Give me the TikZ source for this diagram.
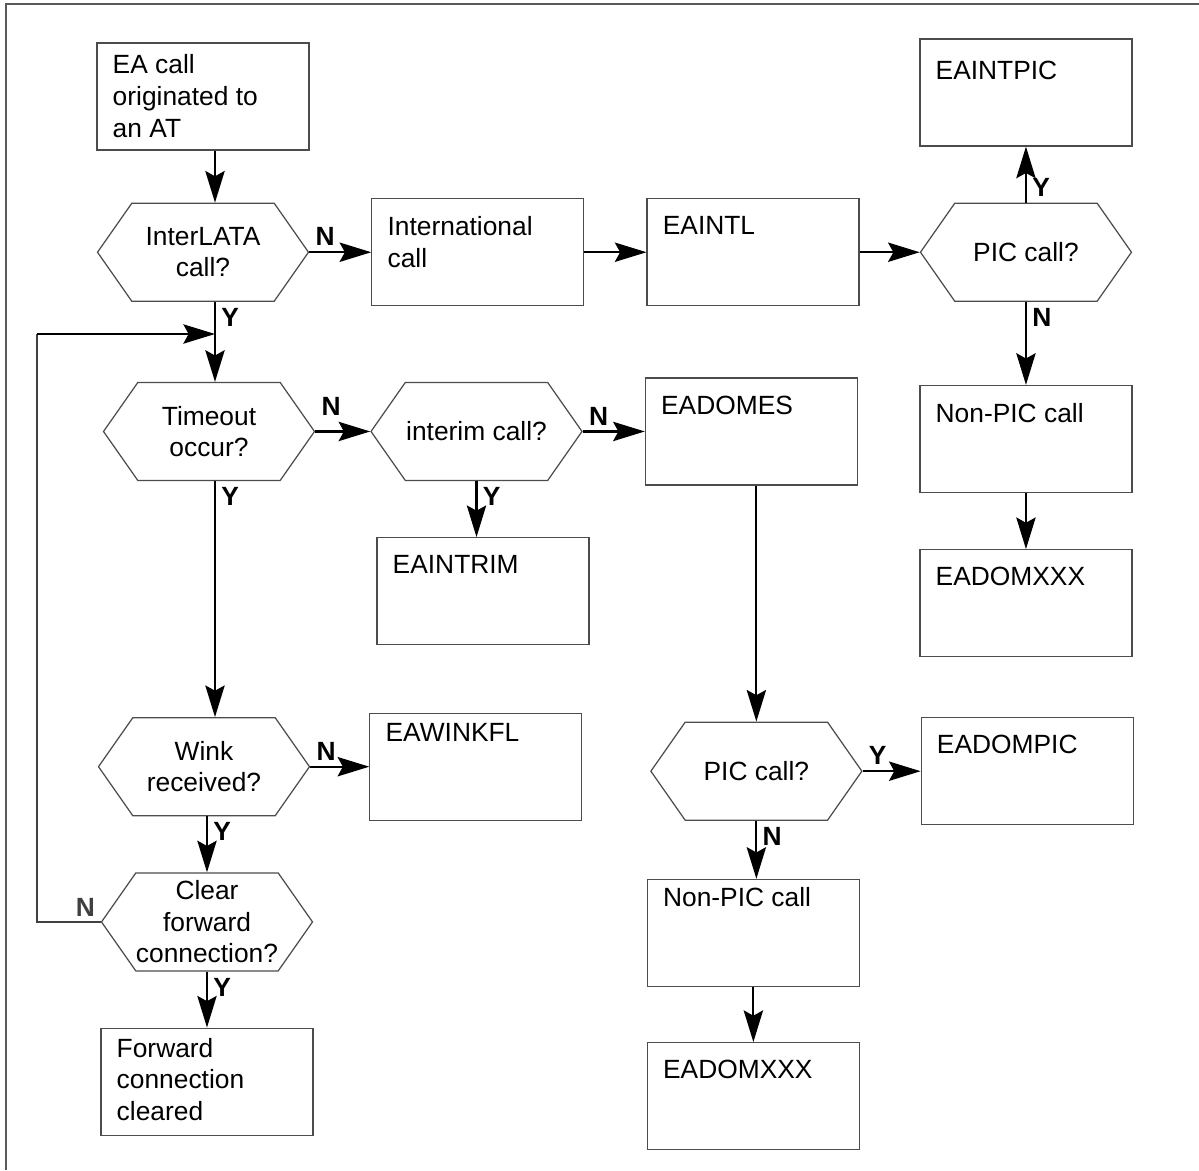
\documentclass[tikz,border=0pt]{standalone}
\usepackage{fontspec}
\setmainfont{Liberation Sans}
\usetikzlibrary{shapes.symbols,arrows.meta,positioning,calc}

\begin{document}
\begin{tikzpicture}[
  node distance=1.12cm,
  font=\fontsize{15}{18}\selectfont,
  box/.style={draw=black!70, line width=0.7pt, rectangle, minimum width=4.24cm, minimum height=2.14cm, inner sep=0pt},
  boxtext/.style={anchor=north west, align=left, inner sep=0pt, xshift=0.32cm, yshift=-0.36cm},
  hex/.style={draw=black!70, line width=0.7pt, signal, signal to=west and east, signal pointer angle=110, minimum width=4.22cm, minimum height=1.96cm, inner sep=0pt, align=center},
  yn/.style={font=\fontsize{15}{18}\selectfont\bfseries, inner sep=3pt},
  arr/.style={-{Stealth[length=18pt, width=11pt, inset=3pt]}, line width=1.2pt}
]
\useasboundingbox (0,0) rectangle (23.98,-23.4);
\draw[line width=1.1pt, black!65] (0.12,-23.4) -- (0.12,-0.08) -- (23.98,-0.08);

% left column
\node[box, label={[boxtext, yshift=0.12cm]north west:{EA call\\originated to\\an AT}}] (start) at (4.06,-1.93) {};
\node[hex, below=1.04cm of start] (lata) {InterLATA\\call?};
\node[hex, below=1.6cm of lata, xshift=0.12cm] (tout) {Timeout\\occur?};
\node[hex, below=4.72cm of tout, xshift=-0.1cm] (wink) {Wink\\received?};
\node[hex, below=1.12cm of wink, xshift=0.06cm] (clear) {Clear\\forward\\connection?};
\node[box, below=of clear, label={[boxtext, yshift=0.16cm]north west:{Forward\\connection\\cleared}}] (forward) {};

% top row
\node[box, right=1.24cm of lata, label={[boxtext]north west:{International\\call}}] (intl) {};
\node[box, right=1.24cm of intl, label={[boxtext]north west:EAINTL}] (eaintl) {};
\node[hex, right=1.2cm of eaintl] (pic1) {PIC call?};
\node[box, above=of pic1, label={[boxtext, yshift=-0.08cm]north west:EAINTPIC}] (intpic) {};
\node[box, below=1.66cm of pic1, label={[boxtext]north west:Non-PIC call}] (npic1) {};
\node[box, below=of npic1, label={[boxtext]north west:EADOMXXX}] (dxxx1) {};

% middle
\node[hex, right=1.1cm of tout] (interim) {interim call?};
\node[box, below=of interim, xshift=0.13cm, label={[boxtext]north west:EAINTRIM}] (eaintrim) {};
\node[box, right=1.24cm of interim, label={[boxtext]north west:EADOMES}] (eadomes) {};
\node[hex, below=4.72cm of eadomes, xshift=0.1cm] (pic2) {PIC call?};
\node[box, right=1.16cm of pic2, label={[boxtext]north west:EADOMPIC}] (eadompic) {};
\node[box, below=1.16cm of pic2, xshift=-0.06cm, label={[boxtext, yshift=0.2cm]north west:Non-PIC call}] (npic2) {};
\node[box, below=1.1cm of npic2, label={[boxtext]north west:EADOMXXX}] (dxxx2) {};
\node[box, right=1.18cm of wink, label={[boxtext, yshift=0.16cm]north west:EAWINKFL}] (eawinkfl) {};

% connectors
\coordinate (spine) at ($(start.south)+(0.24,0)$);
\coordinate (loop) at (0.74,-6.68);
\draw[arr] (start.south -| spine) -- (lata.north -| spine);
\draw[arr] (lata.south -| spine) -- node[yn, below right, pos=0]{Y} (tout.north -| spine);
\draw[arr] (tout.south -| spine) -- node[yn, below right, pos=0]{Y} (wink.north -| spine);
\draw[arr] (wink.south -| clear.north) -- node[yn, below right, pos=0]{Y} (clear.north);
\draw[arr] (clear.south) -- node[yn, below right, pos=0]{Y} (clear.south |- forward.north);
\draw[line width=0.7pt, black!75] (clear.west) -- node[yn, above left, pos=0]{N} (clear.west -| loop) -- (loop);
\draw[arr] (loop) -- (loop -| spine);

\draw[arr] (lata.east) -- node[yn, above right, pos=0]{N} (lata.east -| intl.west);
\draw[arr] (intl.east) -- (intl.east -| eaintl.west);
\draw[arr] (eaintl.east) -- (eaintl.east -| pic1.west);
\draw[arr] (pic1.north) -- node[yn, above right, pos=0]{Y} (pic1.north |- intpic.south);
\draw[arr] (pic1.south) -- node[yn, below right, pos=0]{N} (pic1.south |- npic1.north);
\draw[arr] (npic1.south) -- (dxxx1.north);

\draw[arr] (tout.east) -- node[yn, above right, pos=0, yshift=0.2cm]{N} (interim.west);
\draw[arr] (interim.east) -- node[yn, above right, pos=0]{N} (interim.east -| eadomes.west);
\draw[arr] (interim.south) -- node[yn, below right, pos=0]{Y} (interim.south |- eaintrim.north);
\draw[arr] (eadomes.south -| pic2.north) -- (pic2.north);
\draw[arr] (pic2.east) -- node[yn, above right, pos=0]{Y} (pic2.east -| eadompic.west);
\draw[arr] (pic2.south) -- node[yn, below right, pos=0]{N} (pic2.south |- npic2.north);
\draw[arr] (npic2.south) -- (npic2.south |- dxxx2.north);
\draw[arr] (wink.east) -- node[yn, above right, pos=0]{N} (wink.east -| eawinkfl.west);
\end{tikzpicture}
\end{document}
